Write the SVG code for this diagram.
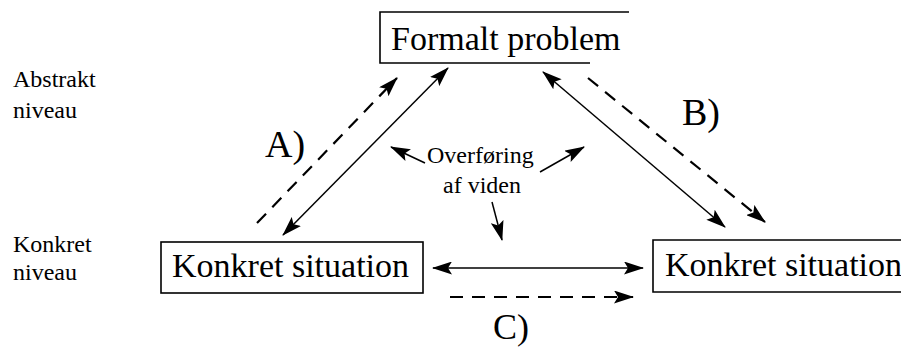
<svg xmlns="http://www.w3.org/2000/svg" width="901" height="349" viewBox="0 0 901 349">
<defs>
<style>
text{font-family:"Liberation Serif","Times New Roman",serif;fill:#000}
.big{font-size:34px}
.lbl{font-size:24px}
.abc{font-size:38px}
.box{fill:none;stroke:#000;stroke-width:1.6}
.sol{fill:none;stroke:#000;stroke-width:1.5}
.dash{fill:none;stroke:#000;stroke-width:2.2;stroke-dasharray:13 9}
</style>
<marker id="ah" viewBox="0 0 20 13" refX="19" refY="6.5" markerWidth="20" markerHeight="13" markerUnits="userSpaceOnUse" orient="auto-start-reverse">
<path d="M0,0 L20,6.5 L0,13 L4,6.5 z" fill="#000"/>
</marker>
</defs>
<rect width="901" height="349" fill="#fff"/>
<g id="levels">
<text class="lbl" x="13" y="87">Abstrakt</text>
<text class="lbl" x="13" y="118">niveau</text>
<text class="lbl" x="13" y="252">Konkret</text>
<text class="lbl" x="13" y="280">niveau</text>
</g>
<g id="formalt">
<path class="box" d="M629,12 H380 V63 H590"/>
<text class="big" x="391" y="50">Formalt problem</text>
</g>
<g id="konkret1">
<rect class="box" x="161" y="242" width="262" height="51"/>
<text class="big" x="172" y="277">Konkret situation</text>
</g>
<g id="konkret2">
<path class="box" d="M901,240 H653 V292 H901"/>
<text class="big" x="665" y="276">Konkret situation</text>
</g>
<g id="labels">
<text class="abc" x="265" y="157">A)</text>
<text class="abc" x="682" y="125">B)</text>
<text class="abc" x="493" y="339" style="font-size:36px">C)</text>
<text class="lbl" x="427" y="163">Overføring</text>
<text class="lbl" x="443" y="193">af viden</text>
</g>
<g id="connectors">
<line class="sol" x1="283" y1="235" x2="448" y2="68" marker-start="url(#ah)" marker-end="url(#ah)"/>
<line class="dash" x1="257" y1="223" x2="397" y2="78" marker-end="url(#ah)"/>
<line class="sol" x1="543" y1="72" x2="725" y2="227" marker-start="url(#ah)" marker-end="url(#ah)"/>
<line class="dash" x1="588" y1="78" x2="765" y2="222" marker-end="url(#ah)"/>
<line class="sol" x1="433" y1="268" x2="643" y2="268" marker-start="url(#ah)" marker-end="url(#ah)"/>
<line class="dash" x1="450" y1="297" x2="633" y2="297" marker-end="url(#ah)"/>
<line class="sol" x1="425" y1="163" x2="391" y2="147" marker-end="url(#ah)"/>
<line class="sol" x1="540" y1="172" x2="584" y2="147" marker-end="url(#ah)"/>
<line class="sol" x1="492" y1="202" x2="502" y2="240" marker-end="url(#ah)"/>
</g>
</svg>
